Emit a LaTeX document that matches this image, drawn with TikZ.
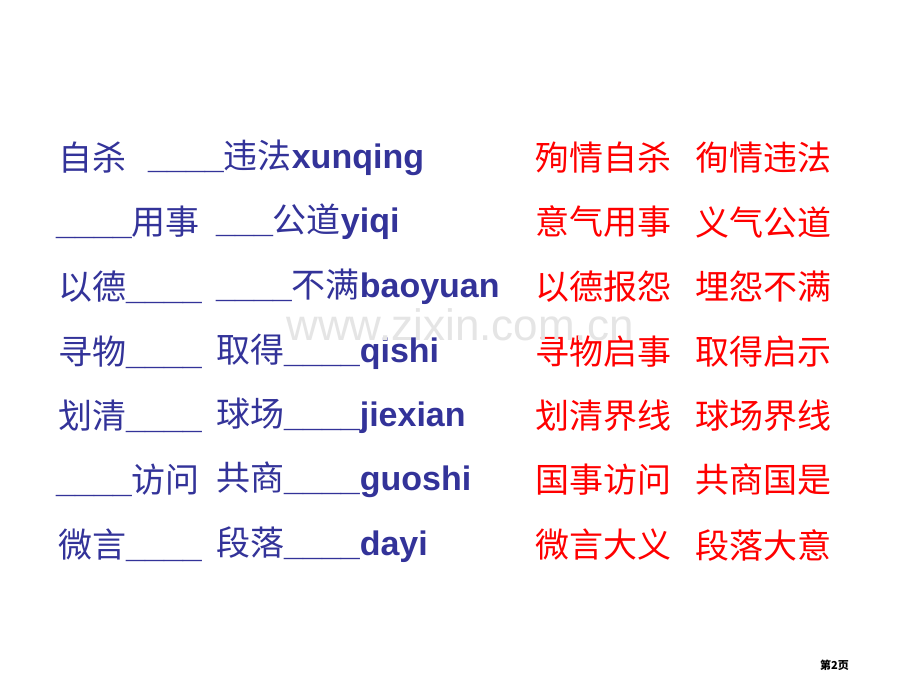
\documentclass[tikz,border=0pt]{standalone}
\usepackage{fontspec}
\setmainfont{Noto Sans CJK SC}
\newfontfamily\lat{Liberation Sans}[BoldFont=Liberation Sans Bold]
\definecolor{bl}{RGB}{51,51,153}
\definecolor{rd}{RGB}{255,0,0}
\newcommand{\lt}[1]{{\lat\bfseries #1}}
\begin{document}
\begin{tikzpicture}[x=1pt,y=-1pt,
  t/.style={anchor=west,inner sep=0pt,font=\fontsize{34}{36}\selectfont,text=bl},
  r/.style={t,text=rd}]
\useasboundingbox[fill=white] (0,0) rectangle (920,690);
\node[t] (a1) at (58,158) {自杀};
\node[t] (b1) at (148,158) {\lt{\_\_\_\_}违法\lt{xunqing}};
\node[t] (a2) at (56,222) {\lt{\_\_\_\_}用事};
\node[t] (b2) at (216,222) {\lt{\_\_\_}公道\lt{yiqi}};
\node[t] (a3) at (58,287) {以德\lt{\_\_\_\_}};
\node[t] (b3) at (216,287) {\lt{\_\_\_\_}不满\lt{baoyuan}};
\node[t] (a4) at (58,352) {寻物\lt{\_\_\_\_}};
\node[t] (b4) at (216,352) {取得\lt{\_\_\_\_qishi}};
\node[t] (a5) at (58,416) {划清\lt{\_\_\_\_}};
\node[t] (b5) at (216,416) {球场\lt{\_\_\_\_jiexian}};
\node[t] (a6) at (56,480) {\lt{\_\_\_\_}访问};
\node[t] (b6) at (216,480) {共商\lt{\_\_\_\_guoshi}};
\node[t] (a7) at (58,545) {微言\lt{\_\_\_\_}};
\node[t] (b7) at (216,545) {段落\lt{\_\_\_\_dayi}};
\foreach \y/\p/\q [count=\i] in {158/殉情自杀/徇情违法,222/意气用事/义气公道,287/以德报怨/埋怨不满,352/寻物启事/取得启示,416/划清界线/球场界线,480/国事访问/共商国是,545/微言大义/段落大意}{
  \node[r] (c\i) at (535,\y) {\p};
  \node[r] (d\i) at (695,\y) {\q};
}
\node[anchor=center,text=black!10,font=\lat\fontsize{44}{48}\selectfont] (wm) at (460,325) {www.zixin.com.cn};
\node[anchor=west,inner sep=0pt,font=\fontsize{11}{12}\selectfont\bfseries] (pg) at (820,665) {第2页};
\end{tikzpicture}
\end{document}
